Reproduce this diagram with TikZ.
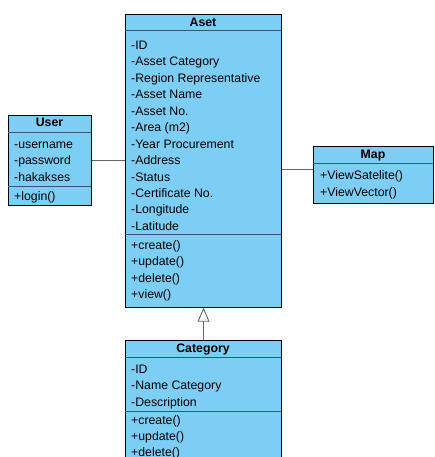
\documentclass[tikz,border=0pt]{standalone}
\usepackage{fontspec}
\setmainfont{Liberation Sans}
\usetikzlibrary{arrows.meta}
\definecolor{clsblue}{RGB}{124,206,244}
\definecolor{sepline}{RGB}{52,88,108}
\definecolor{linkgray}{RGB}{102,102,102}

\begin{document}
\begin{tikzpicture}[x=1pt, y=-1pt,
  classbox/.style={draw=black, line width=1pt, fill=clsblue, inner sep=0pt, anchor=north west},
  row/.style={anchor=base west, inner sep=0pt, font=\fontsize{12.3}{14}\selectfont},
  title/.style={anchor=base, inner sep=0pt, font=\fontsize{12.3}{14}\selectfont\bfseries},
  sep/.style={draw=sepline, line width=1pt},
  link/.style={draw=linkgray, line width=0.9pt}]
  \useasboundingbox (0,0) rectangle (434,457);
  \clip (0,0) rectangle (434,457);

  % Aset
  \node[classbox, minimum width=156pt, minimum height=292.7pt] (aset) at (125,14) {};
  \node[title] (asettitle) at (203,26.6) {Aset};
  \draw[sep] (125,30.7) -- (281,30.7);
  \draw[sep] (125,234) -- (281,234);
  \foreach \t [count=\i from 0] in {-ID,-Asset Category,-Region Representative,-Asset Name,-Asset No.,-Area (m2),-Year Procurement,-Address,-Status,-Certificate No.,-Longitude,-Latitude}
    \node[row] (asetattr\i) at (131,{49.4+16.45*\i}) {\t};
  \foreach \t [count=\i from 0] in {+create(),+update(),+delete(),+view()}
    \node[row] (asetop\i) at (131,{249.6+16.2*\i}) {\t};

  % User
  \node[classbox, minimum width=83pt, minimum height=90pt] (user) at (8,115) {};
  \node[title] (usertitle) at (49.5,126.1) {User};
  \draw[sep] (8,132.3) -- (91,132.3);
  \draw[sep] (8,186) -- (91,186);
  \foreach \t [count=\i from 0] in {-username,-password,-hakakses}
    \node[row] (userattr\i) at (14,{148.6+16.2*\i}) {\t};
  \node[row] (userop0) at (14,200.1) {+login()};

  % Map
  \node[classbox, minimum width=120pt, minimum height=57pt] (map) at (313,146) {};
  \node[title] (maptitle) at (373,158.4) {Map};
  \draw[sep] (313,163.3) -- (433,163.3);
  \foreach \t [count=\i from 0] in {+ViewSatelite(),+ViewVector()}
    \node[row] (mapop\i) at (320,{179.4+16.6*\i}) {\t};

  % Category
  \node[classbox, minimum width=156pt, minimum height=140pt] (category) at (125,340) {};
  \node[title] (cattitle) at (203,352.4) {Category};
  \draw[sep] (125,357) -- (281,357);
  \draw[sep] (125,411.7) -- (281,411.7);
  \foreach \t [count=\i from 0] in {-ID,-Name Category,-Description}
    \node[row] (catattr\i) at (131,{373.7+16.2*\i}) {\t};
  \foreach \t [count=\i from 0] in {+create(),+update(),+delete()}
    \node[row] (catop\i) at (131,{424.4+16*\i}) {\t};

  % links
  \coordinate (mapjoin) at (313,169.3);
  \draw[link] (user.east) -- (user.east -| aset.west);
  \draw[link] (mapjoin -| aset.east) -- (mapjoin);
  \draw[link, -{Triangle[length=14pt, width=12pt, fill=white]}] (category.north) -- (aset.south);
\end{tikzpicture}
\end{document}
